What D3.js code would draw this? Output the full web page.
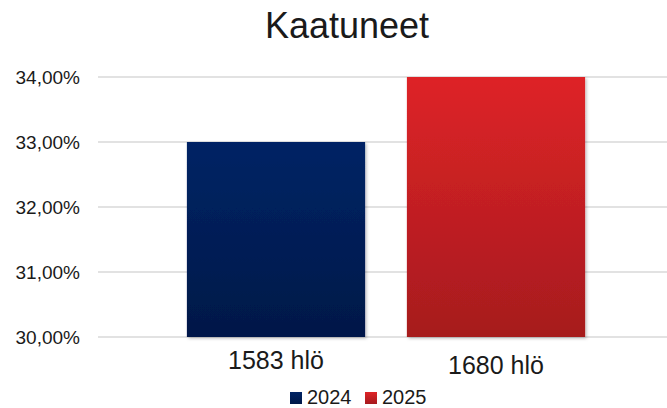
<!DOCTYPE html>
<html>
<head>
<meta charset="utf-8">
<script src="https://cdn.jsdelivr.net/npm/d3@7"></script>
<style>
  body { margin: 0; background: #fff; }
  text { font-family: "Liberation Sans", Arial, sans-serif; fill: #1a1a1a; }
</style>
</head>
<body>
<svg></svg>
<script>
// data
const categories = ['1583 hlö', '1680 hlö'];
const seriesNames = ['2024', '2025'];
const values = [0.33, 0.34];
const yTicks = [0.30, 0.31, 0.32, 0.33, 0.34];

// colours (top, bottom of gradient)
const colors = [
  ['#012465', '#001848'],
  ['#de2427', '#a61a1e']
];

const width = 667;
const height = 408;

const svg = d3.select('svg')
  .attr('width', width)
  .attr('height', height);

const defs = svg.append('defs');
colors.forEach((c, i) => {
  const g = defs.append('linearGradient')
    .attr('id', 'grad' + i)
    .attr('x1', 0).attr('y1', 0).attr('x2', 0).attr('y2', 1);
  g.append('stop').attr('offset', '0%').attr('stop-color', c[0]);
  g.append('stop').attr('offset', '100%').attr('stop-color', c[1]);
});

const shadow = defs.append('filter').attr('id', 'shadow')
  .attr('x', '-10%').attr('y', '-10%').attr('width', '120%').attr('height', '120%');
shadow.append('feDropShadow')
  .attr('dx', 1.5).attr('dy', 1.5).attr('stdDeviation', 1.5)
  .attr('flood-color', '#000').attr('flood-opacity', 0.25);

// scales
const y = d3.scaleLinear()
  .domain([0.30, 0.34])
  .range([337, 77]);

const x = d3.scaleBand()
  .domain(categories)
  .range([166, 606])
  .paddingInner(0.19)
  .paddingOuter(0.095);

const fmt = v => (v * 100).toFixed(2).replace('.', ',') + '%';

// title
svg.append('text')
  .attr('x', 347)
  .attr('y', 38)
  .attr('text-anchor', 'middle')
  .style('font-size', '36px')
  .text('Kaatuneet');

// gridlines
svg.append('g')
  .selectAll('line')
  .data(yTicks)
  .enter().append('line')
  .attr('x1', 98)
  .attr('x2', width)
  .attr('y1', d => y(d))
  .attr('y2', d => y(d))
  .attr('stroke', '#d9d9d9')
  .attr('stroke-width', 1.5);

// y labels
svg.append('g')
  .selectAll('text')
  .data(yTicks)
  .enter().append('text')
  .attr('x', 80)
  .attr('y', d => y(d))
  .attr('dy', '0.35em')
  .attr('text-anchor', 'end')
  .style('font-size', '19px')
  .text(fmt);

// bars
svg.append('g')
  .selectAll('rect')
  .data(values)
  .enter().append('rect')
  .attr('x', (d, i) => x(categories[i]))
  .attr('y', d => y(d))
  .attr('width', x.bandwidth())
  .attr('height', d => y(0.30) - y(d))
  .attr('fill', (d, i) => `url(#grad${i})`)
  .attr('filter', 'url(#shadow)');

// category labels
const labelOffset = [0, 5];
svg.append('g')
  .selectAll('text')
  .data(categories)
  .enter().append('text')
  .attr('x', d => x(d) + x.bandwidth() / 2)
  .attr('y', (d, i) => 369 + labelOffset[i])
  .attr('text-anchor', 'middle')
  .style('font-size', '25px')
  .text(d => d);

// legend
const legendX = [290, 365];
const legend = svg.append('g')
  .selectAll('g')
  .data(seriesNames)
  .enter().append('g')
  .attr('transform', (d, i) => `translate(${legendX[i]},392)`);

legend.append('rect')
  .attr('width', 12)
  .attr('height', 12)
  .attr('fill', (d, i) => `url(#grad${i})`);

legend.append('text')
  .attr('x', 17)
  .attr('y', 12)
  .style('font-size', '20px')
  .text(d => d);
</script>
</body>
</html>
